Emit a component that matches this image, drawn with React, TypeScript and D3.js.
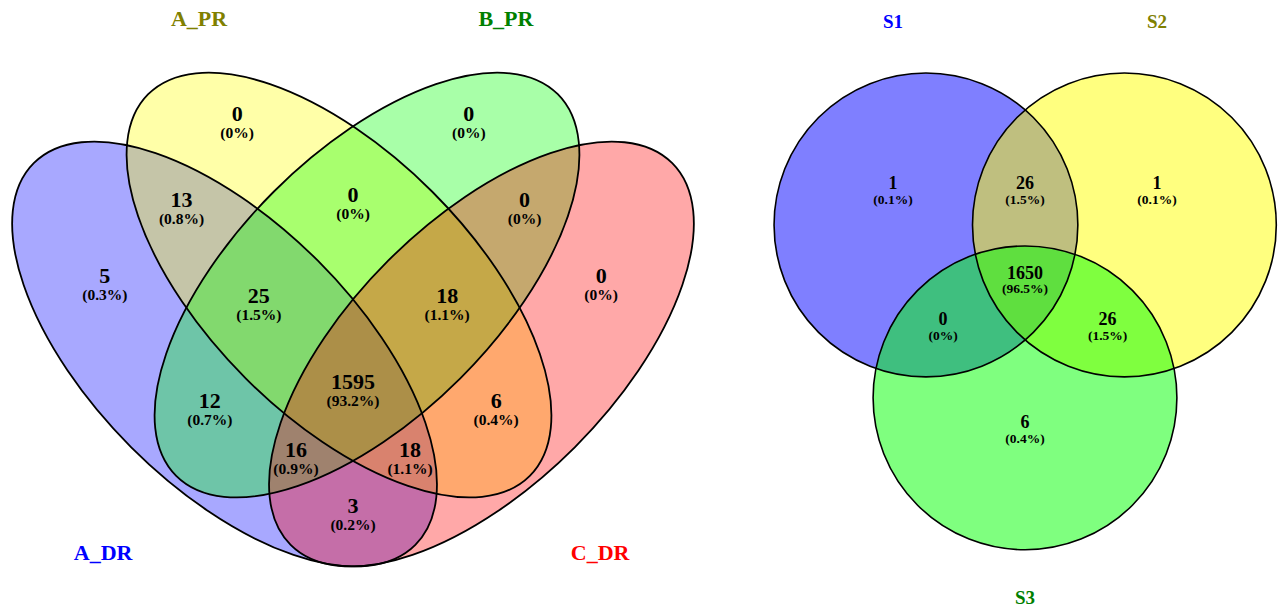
import { useEffect, useRef } from 'react';
import * as d3 from 'd3';

const WIDTH = 1281;
const HEIGHT = 611;

// ---- four-set diagram (left) ----
const quadSets = ['A_DR', 'A_PR', 'B_PR', 'C_DR'];
const quadFill = ['#0000FF', '#FFFF00', '#00FF00', '#FF0000'];
const quadLabelColor = ['#0000FF', '#808000', '#008000', '#FF0000'];
// membership flags over quadSets, in reading order
const quadRegions = ['0100', '0010', '1100', '0110', '0011', '1000', '1110', '0111', '0001', '1010', '1111', '0101', '1011', '1101', '1001'];
const quadCounts = [0, 0, 13, 0, 0, 5, 25, 18, 0, 12, 1595, 6, 16, 18, 3];

// ---- three-set diagram (right) ----
const triSets = ['S1', 'S2', 'S3'];
const triFill = ['#0000FF', '#FFFF00', '#00FF00'];
const triLabelColor = ['#0000FF', '#808000', '#008000'];
const triRegions = ['100', '110', '010', '111', '101', '011', '001'];
const triCounts = [1, 26, 1, 1650, 0, 26, 6];

// layout, in each diagram's own unit frame (centre 0,0; half size 1)
const quadShapes = [
  { cx: -0.367, cy: 0.14, a: 0.771, b: 0.377, rot: 45 },
  { cx: -0.04, cy: -0.057, a: 0.771, b: 0.377, rot: 45 },
  { cx: 0.04, cy: -0.057, a: 0.771, b: 0.377, rot: -45 },
  { cx: 0.367, cy: 0.14, a: 0.771, b: 0.377, rot: -45 },
];
const quadAnchors: Record<string, [number, number]> = {
  '0100': [-0.331, -0.519], '0010': [0.331, -0.519],
  '1100': [-0.49, -0.273], '0110': [0, -0.29], '0011': [0.49, -0.273],
  '1000': [-0.709, -0.056], '1110': [-0.269, 0], '0111': [0.269, 0], '0001': [0.709, -0.056],
  '1010': [-0.409, 0.3], '1111': [0, 0.247], '0101': [0.409, 0.3],
  '1011': [-0.163, 0.44], '1101': [0.163, 0.44], '1001': [0, 0.599],
};
const quadCatPos: [number, number][] = [[-0.714, 0.706], [-0.44, -0.82], [0.437, -0.82], [0.706, 0.706]];

const triShapes = [
  { cx: -0.283, cy: -0.243, r: 0.434 },
  { cx: 0.284, cy: -0.243, r: 0.434 },
  { cx: 0, cy: 0.251, r: 0.434 },
];
const triAnchors: Record<string, [number, number]> = {
  '100': [-0.377, -0.34], '110': [0, -0.34], '010': [0.377, -0.34],
  '111': [0, -0.084], '101': [-0.234, 0.049], '011': [0.236, 0.049], '001': [0, 0.343],
};
const triCatPos: [number, number][] = [[-0.377, -0.823], [0.377, -0.823], [0, 0.82]];

const FONT = '"Liberation Serif", "Times New Roman", Times, serif';

const pct = (n: number, total: number) => {
  const p = (n / total) * 100;
  return p === 0 ? '(0%)' : `(${d3.format('.1f')(p)}%)`;
};

export default function App() {
  const svgRef = useRef<SVGSVGElement>(null);

  useEffect(() => {
    if (!svgRef.current) return;
    const svg = d3.select(svgRef.current);
    svg.selectAll('*').remove();
    svg.style('font-family', FONT);

    // left diagram
    const xL = d3.scaleLinear().domain([-1, 1]).range([353 - 350, 353 + 350]);
    const yL = d3.scaleLinear().domain([-1, 1]).range([305 - 350, 305 + 350]);
    const unitL = xL(1) - xL(0);
    const left = svg.append('g');

    left.selectAll('ellipse.fill')
      .data(quadShapes)
      .join('ellipse')
      .attr('class', 'fill')
      .attr('transform', d => `translate(${xL(d.cx)},${yL(d.cy)}) rotate(${d.rot})`)
      .attr('rx', d => d.a * unitL)
      .attr('ry', d => d.b * unitL)
      .attr('fill', (d, i) => quadFill[i])
      .attr('fill-opacity', 0.34)
      .attr('stroke', 'none');

    left.selectAll('ellipse.edge')
      .data(quadShapes)
      .join('ellipse')
      .attr('class', 'edge')
      .attr('transform', d => `translate(${xL(d.cx)},${yL(d.cy)}) rotate(${d.rot})`)
      .attr('rx', d => d.a * unitL)
      .attr('ry', d => d.b * unitL)
      .attr('fill', 'none')
      .attr('stroke', '#000')
      .attr('stroke-width', 1.8);

    const quadTotal = d3.sum(quadCounts);
    const qLabels = left.selectAll('g.region')
      .data(quadRegions)
      .join('g')
      .attr('transform', d => `translate(${xL(quadAnchors[d][0])},${yL(quadAnchors[d][1])})`);
    qLabels.append('text')
      .attr('y', -9.5)
      .attr('text-anchor', 'middle')
      .attr('dominant-baseline', 'central')
      .attr('font-size', 22)
      .attr('font-weight', 'bold')
      .attr('fill', '#000')
      .text((d, i) => String(quadCounts[i]));
    qLabels.append('text')
      .attr('y', 9.5)
      .attr('text-anchor', 'middle')
      .attr('dominant-baseline', 'central')
      .attr('font-size', 15.5)
      .attr('font-weight', 'bold')
      .attr('fill', '#000')
      .text((d, i) => pct(quadCounts[i], quadTotal));

    left.selectAll('text.cat')
      .data(quadSets)
      .join('text')
      .attr('class', 'cat')
      .attr('x', (d, i) => xL(quadCatPos[i][0]))
      .attr('y', (d, i) => yL(quadCatPos[i][1]))
      .attr('text-anchor', 'middle')
      .attr('dominant-baseline', 'central')
      .attr('font-size', 22)
      .attr('font-weight', 'bold')
      .attr('fill', (d, i) => quadLabelColor[i])
      .text(d => d);

    // right diagram
    const xR = d3.scaleLinear().domain([-1, 1]).range([1025 - 350, 1025 + 350]);
    const yR = d3.scaleLinear().domain([-1, 1]).range([310 - 350, 310 + 350]);
    const unitR = xR(1) - xR(0);
    const right = svg.append('g');

    right.selectAll('circle.fill')
      .data(triShapes)
      .join('circle')
      .attr('class', 'fill')
      .attr('cx', d => xR(d.cx))
      .attr('cy', d => yR(d.cy))
      .attr('r', d => d.r * unitR)
      .attr('fill', (d, i) => triFill[i])
      .attr('fill-opacity', 0.5);

    right.selectAll('circle.edge')
      .data(triShapes)
      .join('circle')
      .attr('class', 'edge')
      .attr('cx', d => xR(d.cx))
      .attr('cy', d => yR(d.cy))
      .attr('r', d => d.r * unitR)
      .attr('fill', 'none')
      .attr('stroke', '#000')
      .attr('stroke-width', 1.6);

    const triTotal = d3.sum(triCounts);
    const tLabels = right.selectAll('g.region')
      .data(triRegions)
      .join('g')
      .attr('transform', d => `translate(${xR(triAnchors[d][0])},${yR(triAnchors[d][1])})`);
    tLabels.append('text')
      .attr('y', -8)
      .attr('text-anchor', 'middle')
      .attr('dominant-baseline', 'central')
      .attr('font-size', 18)
      .attr('font-weight', 'bold')
      .attr('fill', '#000')
      .text((d, i) => String(triCounts[i]));
    tLabels.append('text')
      .attr('y', 8)
      .attr('text-anchor', 'middle')
      .attr('dominant-baseline', 'central')
      .attr('font-size', 13.5)
      .attr('font-weight', 'bold')
      .attr('fill', '#000')
      .text((d, i) => pct(triCounts[i], triTotal));

    right.selectAll('text.cat')
      .data(triSets)
      .join('text')
      .attr('class', 'cat')
      .attr('x', (d, i) => xR(triCatPos[i][0]))
      .attr('y', (d, i) => yR(triCatPos[i][1]))
      .attr('text-anchor', 'middle')
      .attr('dominant-baseline', 'central')
      .attr('font-size', 19)
      .attr('font-weight', 'bold')
      .attr('fill', (d, i) => triLabelColor[i])
      .text(d => d);
  }, []);

  return (
    <div style={{ position: 'absolute', left: 0, top: 0, width: WIDTH, height: HEIGHT, background: '#fff' }}>
      <svg ref={svgRef} width={WIDTH} height={HEIGHT} style={{ display: 'block' }} />
    </div>
  );
}
